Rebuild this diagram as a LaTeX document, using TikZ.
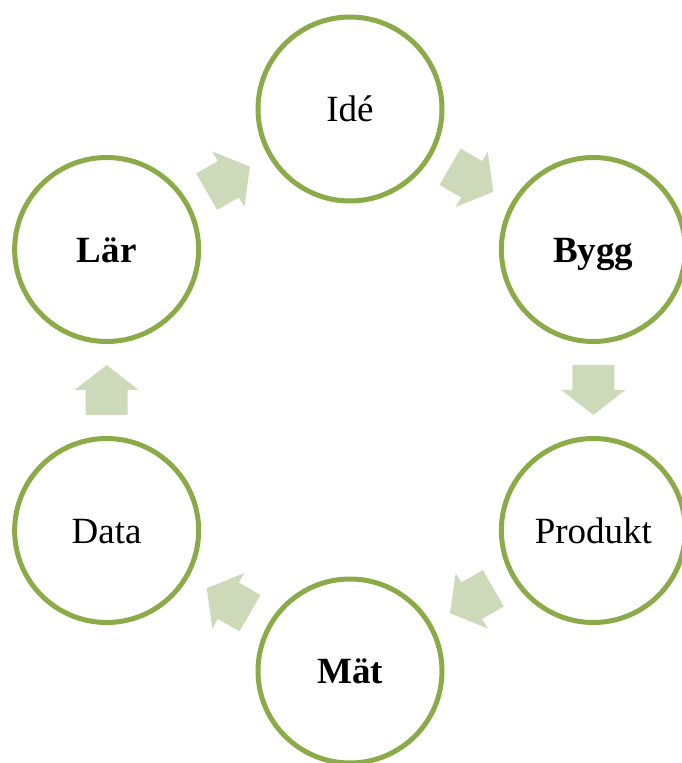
\documentclass[tikz,border=0pt]{standalone}
\usepackage{fontspec}
\setmainfont{Liberation Serif}
\usetikzlibrary{calc}
\definecolor{ringgreen}{RGB}{139,171,72}
\definecolor{arrowgreen}{RGB}{204,218,185}
\tikzset{
  x=1pt, y=1pt,
  stage/.style={circle, draw=ringgreen, line width=5pt, fill=white,
    minimum size=184pt, inner sep=0pt, text height=26pt, text depth=0pt,
    font=\fontsize{37}{44}\selectfont},
  blockarrow/.style={fill=arrowgreen, draw=none}
}
% one block arrow centred on the origin, pointing along +x
\newcommand{\cyclearrow}[2]{%
  \path[blockarrow, shift={(#1)}, rotate=#2]
    (-25,-21) -- (0,-21) -- (0,-32) -- (25,0) -- (0,32) -- (0,21) -- (-25,21) -- cycle;}
\begin{document}
\begin{tikzpicture}
\useasboundingbox (0,0) rectangle (681,763);
\coordinate (c) at (350,373);
\node[stage] (ide)     at ($(c)+(90:281)$)   {Idé};
\node[stage] (bygg)    at ($(c)+(30:281)$)   {\textbf{Bygg}};
\node[stage] (produkt) at ($(c)+(-30:281)$)  {Produkt};
\node[stage] (mat)     at ($(c)+(-90:281)$)  {\textbf{Mät}};
\node[stage] (data)    at ($(c)+(-150:281)$) {Data};
\node[stage] (lar)     at ($(c)+(150:281)$)  {\textbf{Lär}};
\cyclearrow{$(ide)!0.5!(bygg)$}{-30}
\cyclearrow{$(bygg)!0.5!(produkt)$}{-90}
\cyclearrow{$(produkt)!0.5!(mat)$}{-150}
\cyclearrow{$(mat)!0.5!(data)$}{150}
\cyclearrow{$(data)!0.5!(lar)$}{90}
\cyclearrow{$(lar)!0.5!(ide)$}{30}
\end{tikzpicture}
\end{document}
